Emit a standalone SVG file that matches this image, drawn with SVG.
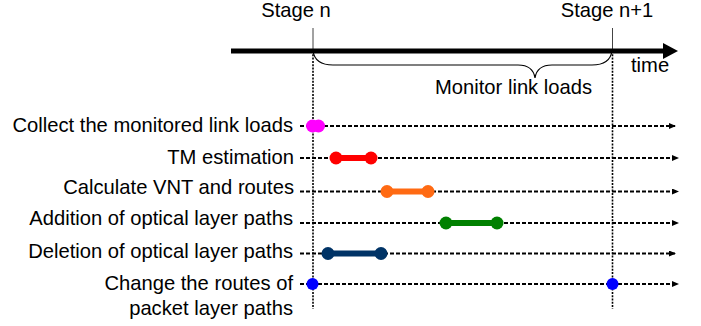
<svg xmlns="http://www.w3.org/2000/svg" width="701" height="326" viewBox="0 0 701 326">
<defs>
<style>
text{font-family:"Liberation Sans",Arial,sans-serif;font-size:20.2px;fill:#000}
.lbl{text-anchor:end}
.dash{stroke:#000;stroke-width:2;stroke-dasharray:4,2;fill:none}
.vline{stroke:#000;stroke-width:1.6;stroke-dasharray:2,1.3;fill:none}
.bar{stroke-width:6;stroke-linecap:round;fill:none}
</style>
<marker id="ah" markerWidth="8" markerHeight="8" refX="6" refY="3" orient="auto" markerUnits="userSpaceOnUse">
<path d="M0,0 L7,3 L0,6 Z" fill="#000"/>
</marker>
</defs>
<rect width="701" height="326" fill="#fff"/>
<g id="timeline">
<text x="296" y="17" text-anchor="middle">Stage n</text>
<text x="607" y="17" text-anchor="middle">Stage n+1</text>
<line x1="313" y1="28" x2="313" y2="51" stroke="#444" stroke-width="1"/>
<line x1="612.5" y1="28" x2="612.5" y2="51" stroke="#444" stroke-width="1"/>
<line x1="231" y1="51" x2="665" y2="51" stroke="#000" stroke-width="5"/>
<polygon points="663,43 678,51 663,59" fill="#000"/>
<text x="631" y="72">time</text>
<path d="M313,51 Q315,65 333,65 L518,65 Q533,65 535,78 Q537,65 552,65 L592,65 Q610,65 612,51" fill="none" stroke="#000" stroke-width="1.2"/>
<text x="435" y="94">Monitor link loads</text>
</g>
<g id="connectors">
<line class="vline" x1="313" y1="51" x2="313" y2="309"/>
<line class="vline" x1="612.5" y1="51" x2="612.5" y2="309"/>
<line class="dash" x1="300" y1="126" x2="675" y2="126" marker-end="url(#ah)"/>
<line class="dash" x1="300" y1="158" x2="678" y2="158" marker-end="url(#ah)"/>
<line class="dash" x1="300" y1="191.5" x2="678" y2="191.5" marker-end="url(#ah)"/>
<line class="dash" x1="300" y1="223" x2="678" y2="223" marker-end="url(#ah)"/>
<line class="dash" x1="300" y1="253.5" x2="675" y2="253.5" marker-end="url(#ah)"/>
<line class="dash" x1="300" y1="284" x2="678" y2="284" marker-end="url(#ah)"/>
</g>
<g id="collect">
<text class="lbl" x="293" y="132">Collect the monitored link loads</text>
<circle cx="312.5" cy="126" r="6.5" fill="#FF00FF"/>
<circle cx="318.5" cy="126" r="6.5" fill="#FF00FF"/>
</g>
<g id="tm">
<text class="lbl" x="294" y="164">TM estimation</text>
<line class="bar" x1="336" y1="158" x2="371" y2="158" stroke="#FF0000"/>
<circle cx="336" cy="158" r="6.5" fill="#FF0000"/>
<circle cx="371" cy="158" r="6.5" fill="#FF0000"/>
</g>
<g id="vnt">
<text class="lbl" x="294" y="194">Calculate VNT and routes</text>
<line class="bar" x1="387" y1="191.5" x2="428" y2="191.5" stroke="#FF6A13"/>
<circle cx="387" cy="191.5" r="6.5" fill="#FF6A13"/>
<circle cx="428" cy="191.5" r="6.5" fill="#FF6A13"/>
</g>
<g id="add">
<text class="lbl" x="293" y="225">Addition of optical layer paths</text>
<line class="bar" x1="446" y1="223" x2="497" y2="223" stroke="#008000"/>
<circle cx="446" cy="223" r="6.5" fill="#008000"/>
<circle cx="497" cy="223" r="6.5" fill="#008000"/>
</g>
<g id="del">
<text class="lbl" x="293" y="258">Deletion of optical layer paths</text>
<line class="bar" x1="328" y1="253.5" x2="381" y2="253.5" stroke="#003366"/>
<circle cx="328" cy="253.5" r="6.5" fill="#003366"/>
<circle cx="381" cy="253.5" r="6.5" fill="#003366"/>
</g>
<g id="change">
<text class="lbl" x="293" y="290">Change the routes of</text>
<text class="lbl" x="293" y="315">packet layer paths</text>
<circle cx="312.5" cy="284" r="6" fill="#0000FF"/>
<circle cx="612.5" cy="284" r="6" fill="#0000FF"/>
</g>
</svg>
